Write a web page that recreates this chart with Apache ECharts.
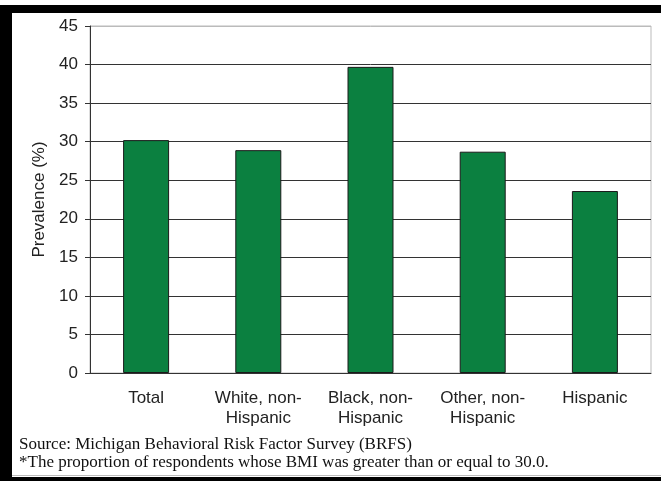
<!DOCTYPE html>
<html>
<head>
<meta charset="utf-8">
<script src="https://cdn.jsdelivr.net/npm/echarts@6/dist/echarts.min.js"></script>
<style>
  html, body { margin: 0; padding: 0; background: #fff; }
  #chart { width: 661px; height: 481px; }
</style>
</head>
<body>
<div id="chart"></div>
<script>
const categories = ['Total', 'White, non-\nHispanic', 'Black, non-\nHispanic', 'Other, non-\nHispanic', 'Hispanic']
const prevalence = [30.2, 28.9, 39.7, 28.7, 23.6]
const sourceLines = [
  'Source: Michigan Behavioral Risk Factor Survey (BRFS)',
  '*The proportion of respondents whose BMI was greater than or equal to 30.0.'
]

const chart = echarts.init(document.getElementById('chart'))

// split lines: dark inside, light for the top edge at 45
const splitColors = ['#333', '#333', '#333', '#333', '#333', '#333', '#333', '#333', '#333', '#bbb']

chart.setOption({
  backgroundColor: '#fff',
  animation: false,
  textStyle: { fontFamily: 'Liberation Sans, Arial, sans-serif' },
  grid: {
    left: 90,
    right: 10,
    top: 26,
    bottom: 108,
    show: true,
    borderColor: '#bbb',
    borderWidth: 1
  },
  xAxis: {
    type: 'category',
    data: categories,
    axisLine: { lineStyle: { color: '#333' } },
    axisTick: { length: 5, lineStyle: { color: '#333' } },
    axisLabel: {
      interval: 0,
      color: '#222',
      fontSize: 17,
      lineHeight: 20,
      margin: 15
    }
  },
  yAxis: {
    type: 'value',
    min: 0,
    max: 45,
    interval: 5,
    name: 'Prevalence (%)',
    nameLocation: 'middle',
    nameGap: 35,
    nameTextStyle: { color: '#222', fontSize: 17 },
    axisLine: { show: true, lineStyle: { color: '#333' } },
    axisTick: { show: true, length: 5, lineStyle: { color: '#333' } },
    axisLabel: { color: '#222', fontSize: 17, margin: 12 },
    splitLine: { lineStyle: { color: splitColors, width: 1 } }
  },
  series: [
    {
      type: 'bar',
      data: prevalence,
      barWidth: 46,
      itemStyle: {
        color: '#0b8040',
        borderColor: '#1a1a1a',
        borderWidth: 1
      }
    }
  ],
  graphic: [
    { type: 'rect', shape: { x: 0, y: 5, width: 661, height: 8 }, style: { fill: '#000' } },
    { type: 'rect', shape: { x: 0, y: 5, width: 12, height: 476 }, style: { fill: '#000' } },
    { type: 'rect', shape: { x: 0, y: 477, width: 661, height: 4 }, style: { fill: '#000' } },
    { type: 'rect', shape: { x: 12, y: 475, width: 649, height: 1 }, style: { fill: '#bbb' } },
    {
      type: 'text',
      left: 19,
      top: 436,
      style: {
        text: sourceLines.join('\n'),
        font: '17px "Liberation Serif", "Times New Roman", serif',
        lineHeight: 18,
        fill: '#111'
      }
    }
  ]
})
</script>
</body>
</html>
